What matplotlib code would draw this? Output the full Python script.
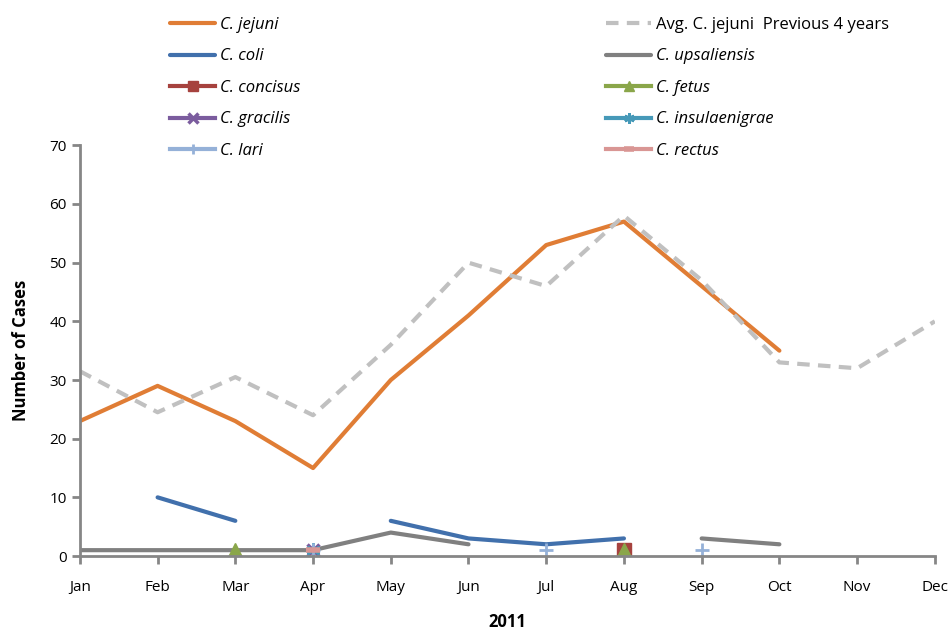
import numpy as np
import matplotlib
matplotlib.use("Agg")
import matplotlib.pyplot as plt

plt.rcParams['font.family'] = ['Open Sans', 'DejaVu Sans']

months = ['Jan', 'Feb', 'Mar', 'Apr', 'May', 'Jun', 'Jul', 'Aug', 'Sep', 'Oct', 'Nov', 'Dec']
nan = np.nan

jejuni = [23, 29, 23, 15, 30, 41, 53, 57, 46, 35, nan, nan]
avg_prev4 = [31.5, 24.5, 30.5, 24, 36, 50, 46, 58, 47, 33, 32, 40]
coli = [nan, 10, 6, nan, 6, 3, 2, 3, nan, nan, nan, nan]
upsaliensis = [1, 1, 1, 1, 4, 2, nan, nan, 3, 2, nan, nan]
concisus = [nan, nan, nan, nan, nan, nan, nan, 1, nan, nan, nan, nan]
fetus = [nan, nan, 1, nan, nan, nan, nan, 1, nan, nan, nan, nan]
gracilis = [nan, nan, nan, 1, nan, nan, nan, nan, nan, nan, nan, nan]
insulaenigrae = [nan, nan, nan, 1, nan, nan, nan, nan, nan, nan, nan, nan]
lari = [nan, nan, nan, 1, nan, nan, 1, nan, 1, nan, nan, nan]
rectus = [nan, nan, nan, 1, nan, nan, nan, nan, nan, nan, nan, nan]

x = np.arange(len(months))

fig = plt.figure(figsize=(9.51, 6.29), dpi=100)
ax = fig.add_axes([0.084, 0.116, 0.899, 0.653])

lw = 3
h_jej, = ax.plot(x, jejuni, color='#E07D35', lw=lw, solid_capstyle='round', label='C. jejuni')
h_avg, = ax.plot(x, avg_prev4, color='#C0C0C0', lw=lw, ls=(0, (3, 2)), label='Avg. C. jejuni  Previous 4 years')
h_coli, = ax.plot(x, coli, color='#4170AC', lw=lw, solid_capstyle='round', label='C. coli')
h_ups, = ax.plot(x, upsaliensis, color='#808080', lw=lw, solid_capstyle='round', label='C. upsaliensis')
h_con, = ax.plot(x, concisus, color='#A6423E', lw=lw, marker='s', ms=10, label='C. concisus')
h_fet, = ax.plot(x, fetus, color='#8AA64A', lw=lw, marker='^', ms=10, label='C. fetus')
h_gra, = ax.plot(x, gracilis, color='#7B5C9E', lw=lw, marker='x', ms=9, mew=2.5, label='C. gracilis')
h_ins, = ax.plot(x, insulaenigrae, color='#4699B8', lw=lw, marker=(6, 2, 0), ms=10, mew=2, label='C. insulaenigrae')
h_lar, = ax.plot(x, lari, color='#95B1D8', lw=lw, marker='+', ms=10, mew=2, label='C. lari')
h_rec, = ax.plot(x, rectus, color='#D99694', lw=lw, marker='_', ms=10, mew=4, label='C. rectus')

ax.set_xlim(0, 11)
ax.set_ylim(0, 70)
ax.set_yticks(range(0, 71, 10))
ax.set_xticks(x)
ax.set_xticklabels(months)

for s in ['top', 'right']:
    ax.spines[s].set_visible(False)
for s in ['left', 'bottom']:
    ax.spines[s].set_color('#868686')
    ax.spines[s].set_linewidth(2)
ax.tick_params(axis='both', colors='#868686', length=6, width=2, labelsize=11, labelcolor='black')
ax.tick_params(axis='x', pad=11)

ax.set_xlabel('2011', fontsize=12, fontweight='bold', labelpad=13)
ax.set_ylabel('Number of Cases', fontsize=12, fontweight='bold', labelpad=14)

handles = [h_jej, h_coli, h_con, h_gra, h_lar, h_avg, h_ups, h_fet, h_ins, h_rec]
leg = fig.legend(handles, [h.get_label() for h in handles], ncol=2, loc='upper left',
                 bbox_to_anchor=(0.163, 0.997), frameon=False, fontsize=12,
                 handlelength=2.7, handletextpad=0.3, labelspacing=0.93,
                 columnspacing=18.35, markerscale=0.75)
for t in leg.get_texts():
    if t.get_text().startswith('C.'):
        t.set_style('italic')

fig.savefig('out.png', dpi=100)
